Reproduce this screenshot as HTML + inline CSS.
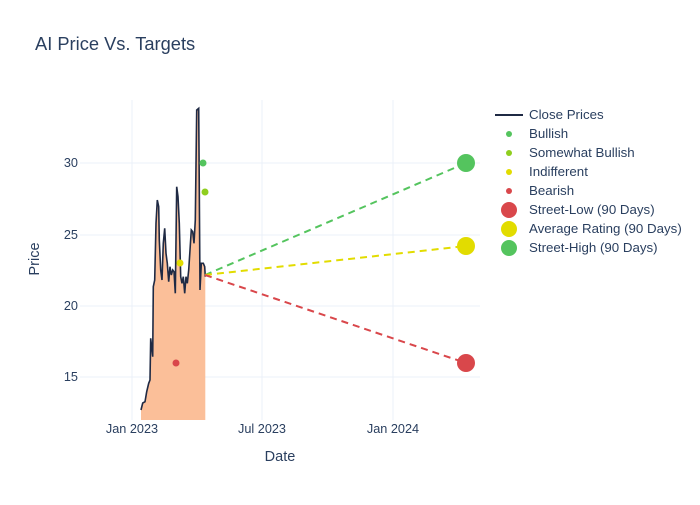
<!DOCTYPE html>
<html><head><style>body{margin:0;background:#fff}</style></head><body>
<svg width="700" height="500" xmlns="http://www.w3.org/2000/svg" font-family="Liberation Sans, sans-serif">
<rect width="700" height="500" fill="#fff"/>
<g stroke="#ebf0f8" stroke-width="1">
<line x1="132" y1="100" x2="132" y2="420"/><line x1="262" y1="100" x2="262" y2="420"/><line x1="393" y1="100" x2="393" y2="420"/>
<line x1="80" y1="163" x2="480" y2="163"/><line x1="80" y1="235" x2="480" y2="235"/><line x1="80" y1="306" x2="480" y2="306"/><line x1="80" y1="377" x2="480" y2="377"/>
</g>
<polygon fill="#fbbf99" points="141,420 141,410 142.7,403 145,401.7 146.7,391.7 148.7,383.3 150,380 150.7,338.3 152.7,356.7 153.3,286.7 154.7,280 156,223.3 157.3,200 158.7,206.7 159.3,240 160.7,270 162,280 163.3,243.3 164.7,228.3 166,253.3 167.3,263.3 168.7,281.7 170,266.7 171.3,275 172.7,270 174,271.7 175.3,293.3 176.7,186.7 178,196.7 179.3,223.3 180.7,276.7 182,283.3 183.3,276.7 184.7,293.3 186,276.7 187.3,283.3 188.7,270 190,250 191.3,230 192.7,231.7 194,243.3 195.3,220 196.7,110 198.7,108.3 199.3,190 200,290 201.3,263.3 203.3,263.3 204.7,266.7 205.3,276.7 205.3,420"/>
<polyline fill="none" stroke="#1f2a44" stroke-width="1.6" points="141,410 142.7,403 145,401.7 146.7,391.7 148.7,383.3 150,380 150.7,338.3 152.7,356.7 153.3,286.7 154.7,280 156,223.3 157.3,200 158.7,206.7 159.3,240 160.7,270 162,280 163.3,243.3 164.7,228.3 166,253.3 167.3,263.3 168.7,281.7 170,266.7 171.3,275 172.7,270 174,271.7 175.3,293.3 176.7,186.7 178,196.7 179.3,223.3 180.7,276.7 182,283.3 183.3,276.7 184.7,293.3 186,276.7 187.3,283.3 188.7,270 190,250 191.3,230 192.7,231.7 194,243.3 195.3,220 196.7,110 198.7,108.3 199.3,190 200,290 201.3,263.3 203.3,263.3 204.7,266.7 205.3,276.7"/>
<g stroke-width="2" stroke-dasharray="7,5" fill="none">
<line x1="205" y1="275" x2="466" y2="163" stroke="#54c45e"/>
<line x1="205" y1="275" x2="466" y2="246" stroke="#e2dc00"/>
<line x1="205" y1="275" x2="466" y2="363" stroke="#d9474b"/>
</g>
<circle cx="203" cy="163" r="3.5" fill="#54c45e"/><circle cx="205" cy="192" r="3.5" fill="#8fce1e"/>
<circle cx="180" cy="263" r="3.5" fill="#e2dc00"/><circle cx="176" cy="363" r="3.5" fill="#d9474b"/>
<circle cx="466" cy="163" r="9" fill="#54c45e"/><circle cx="466" cy="246" r="9" fill="#e2dc00"/><circle cx="466" cy="363" r="9" fill="#d9474b"/>
<g fill="#2a3f5f" font-size="12.7">
<text x="35" y="50" font-size="18.3">AI Price Vs. Targets</text>
<text x="132" y="433" text-anchor="middle">Jan 2023</text><text x="262" y="433" text-anchor="middle">Jul 2023</text><text x="393" y="433" text-anchor="middle">Jan 2024</text>
<text x="78" y="167" text-anchor="end">30</text><text x="78" y="239" text-anchor="end">25</text><text x="78" y="310" text-anchor="end">20</text><text x="78" y="381" text-anchor="end">15</text>
<text x="280" y="461" text-anchor="middle" font-size="14.5">Date</text>
<text transform="translate(39,259) rotate(-90)" text-anchor="middle" font-size="14.5">Price</text>
<g font-size="13.3">
<line x1="495" y1="115" x2="523" y2="115" stroke="#1f2a44" stroke-width="2"/><text x="529" y="119">Close Prices</text>
<circle cx="509" cy="134" r="3" fill="#54c45e"/><text x="529" y="138">Bullish</text>
<circle cx="509" cy="153" r="3" fill="#8fce1e"/><text x="529" y="157">Somewhat Bullish</text>
<circle cx="509" cy="172" r="3" fill="#e2dc00"/><text x="529" y="176">Indifferent</text>
<circle cx="509" cy="191" r="3" fill="#d9474b"/><text x="529" y="195">Bearish</text>
<circle cx="509" cy="210" r="8" fill="#d9474b"/><text x="529" y="214">Street-Low (90 Days)</text>
<circle cx="509" cy="229" r="8" fill="#e2dc00"/><text x="529" y="233">Average Rating (90 Days)</text>
<circle cx="509" cy="248" r="8" fill="#54c45e"/><text x="529" y="252">Street-High (90 Days)</text>
</g>
</g>
</svg>
</body></html>
